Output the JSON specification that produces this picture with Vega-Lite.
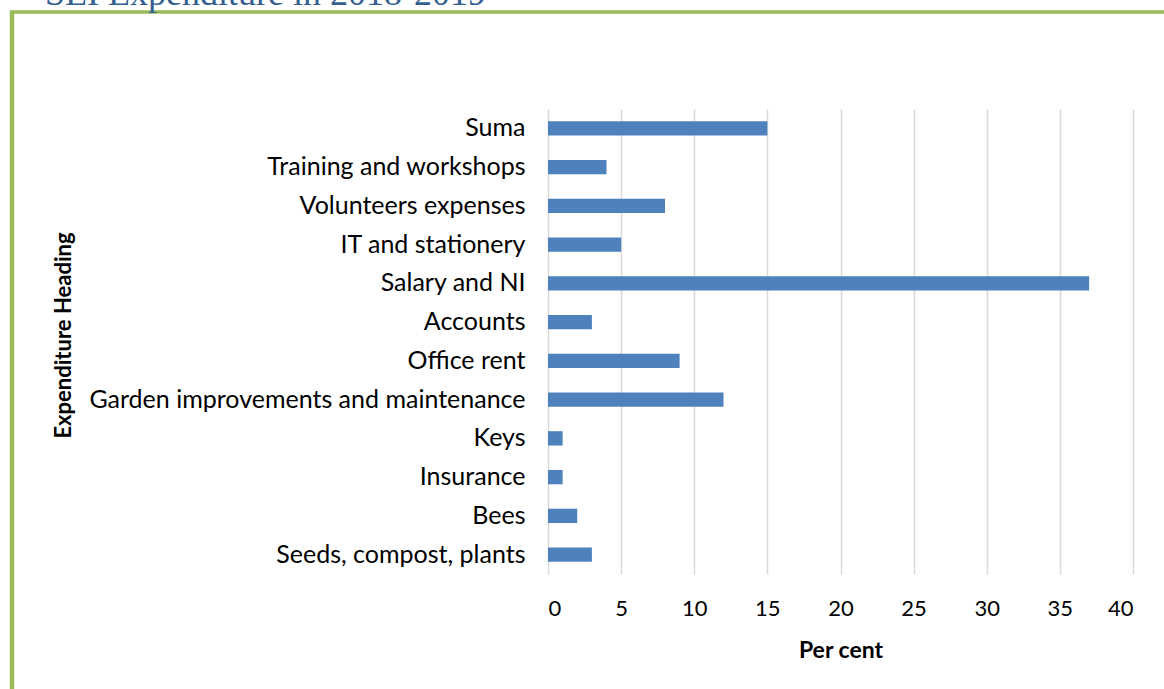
{
  "$schema": "https://vega.github.io/schema/vega-lite/v6.json",
  "autosize": {"type": "none"},
  "width": 585,
  "height": 465,
  "padding": {"left": 548, "top": 109, "right": 31, "bottom": 115},
  "background": "white",
  "title": {
    "text": "SEI Expenditure in 2018-2019",
    "anchor": "start",
    "frame": "group",
    "orient": "top",
    "dx": -503,
    "dy": 3,
    "offset": 2,
    "font": "Liberation Serif",
    "fontSize": 36,
    "fontWeight": "normal",
    "color": "#365f91"
  },
  "data": {
    "values": [
      {"heading": "Suma", "pct": 15},
      {"heading": "Training and workshops", "pct": 4},
      {"heading": "Volunteers expenses", "pct": 8},
      {"heading": "IT and stationery", "pct": 5},
      {"heading": "Salary and NI", "pct": 37},
      {"heading": "Accounts", "pct": 3},
      {"heading": "Office rent", "pct": 9},
      {"heading": "Garden improvements and maintenance", "pct": 12},
      {"heading": "Keys", "pct": 1},
      {"heading": "Insurance", "pct": 1},
      {"heading": "Bees", "pct": 2},
      {"heading": "Seeds, compost, plants", "pct": 3}
    ]
  },
  "config": {
    "view": {"stroke": null},
    "font": "Lato",
    "axis": {"labelFont": "Lato", "titleFont": "Lato", "labelColor": "#000000", "titleColor": "#000000"}
  },
  "layer": [
    {
      "mark": {"type": "bar", "color": "#4f81bd"},
      "encoding": {
        "y": {
          "field": "heading",
          "type": "nominal",
          "sort": null,
          "scale": {"paddingInner": 0.63, "paddingOuter": 0.315},
          "axis": {
            "title": "Expenditure Heading",
            "titleFontSize": 22,
            "titleFontWeight": "bold",
            "titleX": -473,
            "titleY": 226,
            "labelFontSize": 25,
            "labelPadding": 23,
            "domain": false,
            "ticks": false,
            "grid": false,
            "labelLimit": 600
          }
        },
        "x": {
          "field": "pct",
          "type": "quantitative",
          "scale": {"domain": [0, 40], "nice": false},
          "axis": {
            "title": "Per cent",
            "titleFontSize": 23,
            "titleFontWeight": "bold",
            "titlePadding": 20,
            "labelFontSize": 22,
            "labelPadding": 24,
            "values": [0, 5, 10, 15, 20, 25, 30, 35, 40],
            "domain": false,
            "ticks": false,
            "grid": true,
            "gridColor": "#d9d9d9",
            "gridWidth": 1.5
          }
        }
      }
    },
    {
      "mark": {"type": "point", "opacity": 0},
      "encoding": {
        "x": {
          "field": "pct",
          "type": "quantitative",
          "scale": {"range": [-538, 640]},
          "axis": {
            "orient": "top",
            "offset": 97.5,
            "title": null,
            "labels": false,
            "ticks": false,
            "grid": false,
            "domain": true,
            "domainColor": "#9bbb59",
            "domainWidth": 3.5
          }
        },
        "y": {
          "field": "pct",
          "type": "quantitative",
          "scale": {"range": [620, -99]},
          "axis": {
            "orient": "right",
            "offset": -1121.5,
            "title": null,
            "labels": false,
            "ticks": false,
            "grid": false,
            "domain": true,
            "domainColor": "#9bbb59",
            "domainWidth": 4.5
          }
        }
      }
    }
  ],
  "resolve": {"scale": {"x": "independent", "y": "independent"}, "axis": {"x": "independent", "y": "independent"}}
}
